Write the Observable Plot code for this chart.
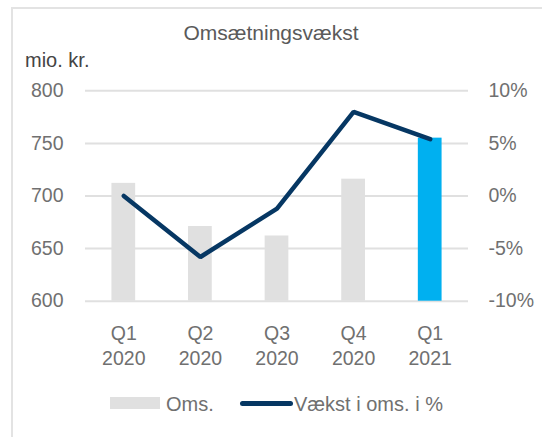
<!DOCTYPE html>
<html><head><meta charset="utf-8">
<script src="https://cdn.jsdelivr.net/npm/d3@7"></script>
<script src="https://cdn.jsdelivr.net/npm/@observablehq/plot@0.6"></script>
<style>
html,body{margin:0;padding:0;background:#fff;width:542px;height:437px;overflow:hidden;font-family:"Liberation Sans",Arial,sans-serif;}
#frame{position:absolute;left:11px;top:7px;width:700px;height:600px;border-left:2px solid #e3e3e3;border-top:2px solid #e3e3e3;}
#title{position:absolute;left:0;width:542px;top:22px;text-align:center;font-size:21px;line-height:21px;color:#5a5a5a;white-space:nowrap;}
#unit{position:absolute;left:25px;top:50px;font-size:20px;line-height:20px;color:#444;white-space:nowrap;}
#chart{position:absolute;left:0;top:70px;}
.lg{position:absolute;font-size:20px;line-height:20px;color:#707070;white-space:nowrap;top:393.8px;}
#sw1{position:absolute;left:110px;top:397px;width:50px;height:12px;background:#e0e0e0;}
#sw2{position:absolute;left:240px;top:400.5px;width:53px;height:5px;border-radius:3px;background:#063763;}
</style>
</head><body>
<div id="frame"></div>
<div id="title">Omsætningsvækst</div>
<div id="unit">mio. kr.</div>
<div id="chart"></div>
<div id="sw1"></div><div class="lg" style="left:166px">Oms.</div>
<div id="sw2"></div><div class="lg" style="left:294px">Vækst i oms. i %</div>
<script>
const quarters = ["Q1\n2020", "Q2\n2020", "Q3\n2020", "Q4\n2020", "Q1\n2021"];
const revenue = [712, 671, 662, 716, 755];
const growth = [0.0, -5.8, -1.2, 8.0, 5.4];
const leftTicks = [600, 650, 700, 750, 800];
const rightTicks = [-10, -5, 0, 5, 10];

const rows = quarters.map((q, i) => ({q, rev: revenue[i], g: growth[i]}));
// map growth (%) onto the left axis: -10%..10% <-> 600..800
const toLeft = g => 700 + g * 10;
const last = rows.length - 1;

const chart = Plot.plot({
  width: 542, height: 300,
  marginTop: 20.3, marginBottom: 69.3, marginLeft: 85, marginRight: 74,
  style: {fontFamily: "Liberation Sans, Arial, sans-serif", fontSize: "19.5px", color: "#707070", background: "transparent", overflow: "visible"},
  x: {domain: quarters, paddingInner: 0.69, paddingOuter: 0.345, round: false, label: null},
  y: {domain: [600, 800], label: null},
  marks: [
    Plot.gridY(leftTicks, {stroke: "#e0e0e0", strokeOpacity: 1, strokeWidth: 2}),
    Plot.barY(rows, {x: "q", y1: leftTicks[0], y2: "rev", fill: "#e0e0e0", filter: (d, i) => i < last}),
    Plot.barY(rows, {x: "q", y1: leftTicks[0], y2: "rev", fill: "#00b0f0", filter: (d, i) => i === last}),
    Plot.line(rows, {x: "q", y: d => toLeft(d.g), stroke: "#063763", strokeWidth: 4.5, strokeLinecap: "round", strokeLinejoin: "miter"}),
    Plot.axisY(leftTicks, {anchor: "left", tickSize: 0, tickPadding: 22, label: null, fontSize: 19.5}),
    Plot.axisY(rightTicks.map(toLeft), {anchor: "right", tickSize: 0, tickPadding: 20, label: null, fontSize: 19.5, tickFormat: v => ((v - 700) / 10) + "%"}),
    Plot.axisX({anchor: "bottom", tickSize: 0, tickPadding: 21.5, label: null, fontSize: 19.5, lineHeight: 1.28})
  ]
});
document.getElementById("chart").appendChild(chart);
</script>
</body></html>
